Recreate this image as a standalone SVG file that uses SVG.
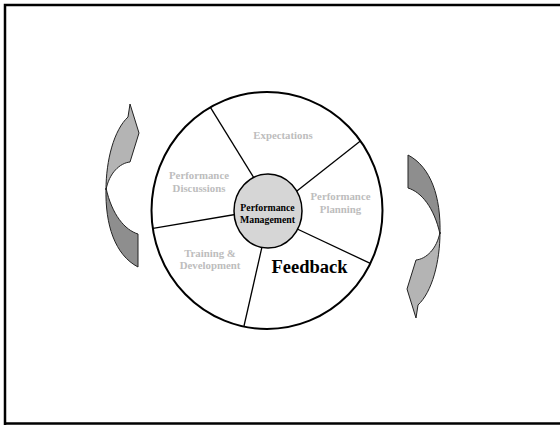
<svg xmlns="http://www.w3.org/2000/svg" xmlns:xlink="http://www.w3.org/1999/xlink" width="560" height="425" viewBox="0 0 560 425">
  <style>
    .frame { stroke: #000; stroke-width: 2.5; fill: none; }
    .ring { fill: #fff; stroke: #000; stroke-width: 2; }
    .hub { fill: #d6d6d6; stroke: #000; stroke-width: 1.5; }
    .spoke { stroke: #000; stroke-width: 1.3; fill: none; }
    .lbl { font-family: "Liberation Serif", "Times New Roman", serif; font-weight: bold; font-size: 10.8px; fill: #bdbdbd; text-anchor: middle; }
    .hubtxt { font-family: "Liberation Serif", "Times New Roman", serif; font-weight: bold; font-size: 9.8px; fill: #000; text-anchor: middle; }
    .big { font-family: "Liberation Serif", "Times New Roman", serif; font-weight: bold; font-size: 18.5px; fill: #000; text-anchor: middle; }
    .back { fill: #8e8e8e; stroke: #222; stroke-width: 1; stroke-linejoin: round; }
    .front { fill: #b4b4b4; stroke: #222; stroke-width: 1; stroke-linejoin: round; }
  </style>
  <defs>
    <!-- curved arrow: lower back band and upper band with head -->
    <g id="curvedArrow">
      <path class="back" d="M106,188 C105,225 115,255 138,267 L138,234 C125,230 112,215 106,188 Z"/>
      <path class="front" d="M106,190 C106,160 114,130 128,117 L130,104 L139,133 L130,162 C120,163 109,173 106,190 Z"/>
    </g>
  </defs>

  <!-- page frame -->
  <path class="frame" d="M5,425 L5,5 L560,5 M4,423.5 L560,423.5"/>

  <!-- arrows either side of the wheel -->
  <g id="arrow-left">
    <use xlink:href="#curvedArrow" href="#curvedArrow"/>
  </g>
  <g id="arrow-right">
    <use xlink:href="#curvedArrow" href="#curvedArrow" transform="rotate(180 273 211)"/>
  </g>

  <!-- wheel rim -->
  <g id="wheel">
    <ellipse class="ring" cx="267" cy="210.5" rx="115.5" ry="118.5"/>
  </g>

  <!-- spokes between hub and rim -->
  <g id="connectors">
    <line class="spoke" x1="259" y1="186" x2="210.4" y2="107.4"/>
    <line class="spoke" x1="288" y1="198" x2="360.4" y2="140.9"/>
    <line class="spoke" x1="293" y1="227" x2="370.3" y2="263.4"/>
    <line class="spoke" x1="264" y1="238" x2="244" y2="326"/>
    <line class="spoke" x1="244" y1="213" x2="153" y2="228.3"/>
  </g>

  <g id="expectations">
    <text class="lbl" x="283" y="139">Expectations</text>
  </g>
  <g id="performance-discussions">
    <text class="lbl" x="199" y="179">Performance</text>
    <text class="lbl" x="199" y="191.5">Discussions</text>
  </g>
  <g id="performance-planning">
    <text class="lbl" x="340.5" y="200">Performance</text>
    <text class="lbl" x="340.5" y="212.5">Planning</text>
  </g>
  <g id="training-development">
    <text class="lbl" x="210" y="257">Training &amp;</text>
    <text class="lbl" x="210" y="269">Development</text>
  </g>
  <g id="feedback">
    <text class="big" x="309.5" y="273">Feedback</text>
  </g>

  <!-- hub -->
  <g id="performance-management">
    <ellipse class="hub" cx="268" cy="211" rx="34" ry="37"/>
    <text class="hubtxt" x="267.5" y="211">Performance</text>
    <text class="hubtxt" x="267.5" y="223">Management</text>
  </g>
</svg>
